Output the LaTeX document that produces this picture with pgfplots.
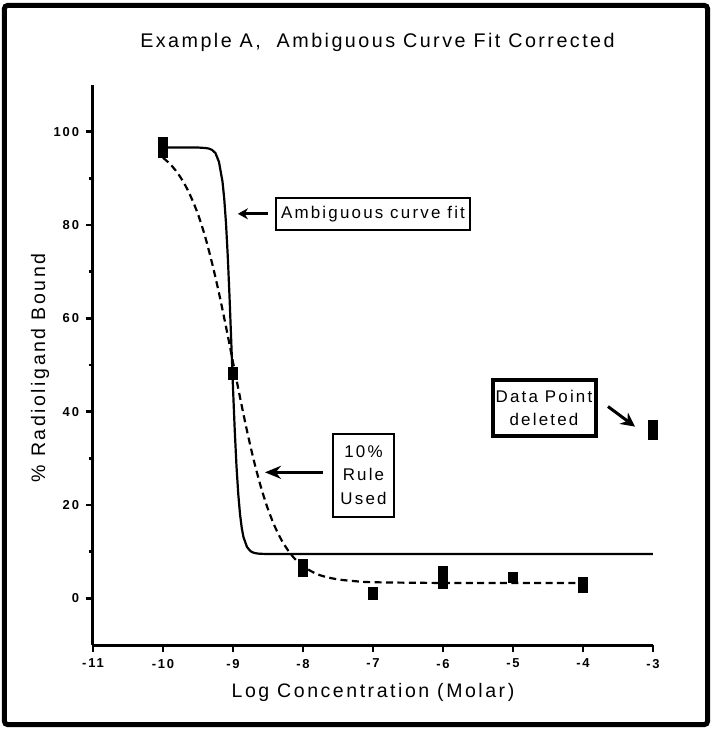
\documentclass[border=0pt]{standalone}
\usepackage{fontspec}
\setmainfont{Liberation Sans}[LetterSpace=10]
\usepackage{pgfplots}
\pgfplotsset{compat=1.18}
\usetikzlibrary{arrows.meta}
\newcommand{\lblfont}{\fontsize{9.8}{12}\selectfont\addfontfeature{LetterSpace=13}}
\newcommand{\annfont}{\fontsize{8.5}{12}\selectfont\addfontfeature{LetterSpace=13}}
\begin{document}
\begin{tikzpicture}
\path[use as bounding box] (-46.5bp,-42.5bp) rectangle (310bp,322.5bp);
\draw[line width=2.5bp, rounded corners=1.5bp] (-44.25bp,-39.75bp) rectangle (307.25bp,319.75bp);
\begin{axis}[
  at={(0,0)}, anchor=south west,
  scale only axis, width=280bp, height=280bp,
  xmin=-11, xmax=-3, ymin=-10, ymax=110,
  enlargelimits=false, clip=false,
  axis x line*=bottom, axis y line*=left,
  axis line style={line width=1.5bp},
  xtick={-11,-10,...,-3}, ytick={0,20,...,100},
  minor ytick={10,30,50,70,90},
  tick align=outside,
  major tick length=3.5bp, minor tick length=2.2bp,
  every tick/.style={line width=1.3bp, black},
  /pgf/number format/assume math mode=true,
  tick label style={font=\fontsize{6.5}{7}\selectfont\bfseries\addfontfeature{LetterSpace=14}},
  every axis title/.style={at={(0.508,1.0765)}, anchor=center, font=\fontsize{9.9}{12}\selectfont\addfontfeature{LetterSpace=12.5}},
  every axis x label/.style={at={(0.500,-0.0854)}, anchor=center, font=\lblfont},
  every axis y label/.style={at={(-0.0946,0.495)}, rotate=90, anchor=center, font=\lblfont},
  title={Example A,\ \ Ambiguous Curve Fit Corrected},
  xlabel={Log Concentration (Molar)},
  ylabel={\% Radioligand Bound},
]
% solid fit (ambiguous)
\addplot[black, line width=1.1bp, mark=none] coordinates {
(-10,96.6) (-9.5,96.6) (-9.4,96.5) (-9.35,96.4) (-9.3,96.1) (-9.25,95.4) (-9.2,93.5) (-9.15,89.3) (-9.125,85.6) (-9.1,80.4) (-9.075,73.4) (-9.05,64.8) (-9.025,55.05) (-9.0,45.1) (-8.975,36.0) (-8.95,28.3) (-8.925,22.4) (-8.9,18.1) (-8.875,15.1) (-8.85,13.1) (-8.8,11.0) (-8.75,10.1) (-8.7,9.74) (-8.65,9.6) (-8.6,9.54) (-8.5,9.5) (-3,9.5)
};
% dashed fit (10% rule)
\addplot[black, line width=1.1bp, dash pattern=on 3.5bp off 2.2bp, mark=none, smooth] coordinates {
(-10,94.4) (-9.9,93.1) (-9.8,91.3) (-9.7,89.0) (-9.6,86.0) (-9.5,82.3) (-9.4,77.6) (-9.3,71.9) (-9.2,65.4) (-9.1,58.2) (-9.0,50.6) (-8.9,43.1) (-8.8,35.9) (-8.7,29.4) (-8.6,23.8) (-8.5,19.1) (-8.4,15.3) (-8.3,12.3) (-8.2,10.0) (-8.1,8.2) (-8.0,6.9) (-7.9,5.95) (-7.8,5.2) (-7.7,4.7) (-7.5,4.05) (-7.2,3.6) (-7.0,3.45) (-6.5,3.35) (-6,3.3) (-5,3.3) (-4,3.3)
};
% data points
\addplot[black, only marks, mark=square*, mark size=2.3bp,
  error bars/.cd, y dir=both, y explicit, error mark=none,
  error bar style={line width=4.6bp, black}] coordinates {
(-10,96.6) +- (0,2.2)
(-9,48.1) +- (0,1.4)
(-8,6.5) +- (0,2.0)
(-7,1.0) +- (0,1.4)
(-6,4.5) +- (0,2.4)
(-5,4.4) +- (0,1.2)
(-4,2.8) +- (0,1.7)
(-3,36.1) +- (0,2.2)
};
% annotations
\node[draw, line width=1bp, minimum width=97bp, minimum height=16bp, inner sep=1bp, font=\annfont] at (axis cs:-7.0,82.4) {Ambiguous curve fit};
\draw[line width=1.4bp, -{Stealth[length=5bp,width=5.5bp]}] (axis cs:-8.5,82.4) -- (axis cs:-8.93,82.4);
\node[draw, line width=1bp, minimum width=30.5bp, minimum height=41.5bp, inner sep=1bp, align=center, font=\annfont] at (axis cs:-7.136,26.4) {10\%\\Rule\\Used};
\draw[line width=1.4bp, -{Stealth[length=8bp,width=6.5bp]}] (axis cs:-7.714,27.0) -- (axis cs:-8.543,27.0);
\node[draw, line width=2bp, minimum width=51.5bp, minimum height=28bp, inner sep=1bp, align=center, font=\annfont] at (axis cs:-4.557,40.8) {Data Point\\deleted};
\draw[line width=1.5bp, -{Stealth[length=7bp,width=7bp]}] (axis cs:-3.643,41.1) -- (axis cs:-3.257,36.8);
\end{axis}
\end{tikzpicture}
\end{document}
